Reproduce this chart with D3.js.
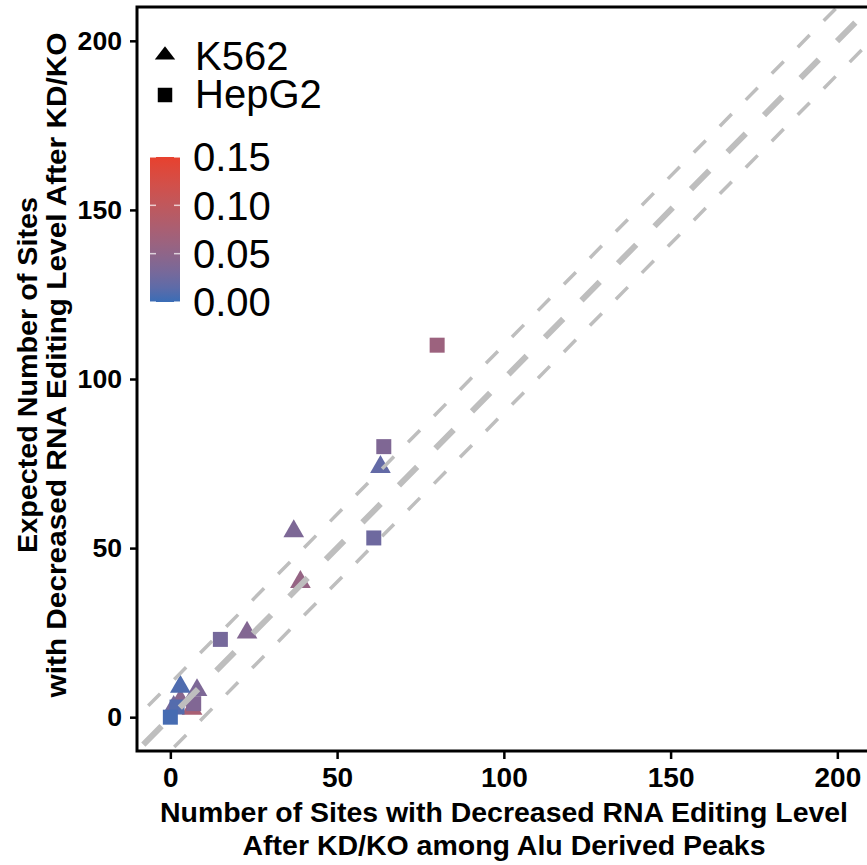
<!DOCTYPE html>
<html>
<head>
<meta charset="utf-8">
<script src="https://cdn.jsdelivr.net/npm/d3@7"></script>
<style>
  body { margin: 0; background: #fff; }
  text { font-family: "Liberation Sans", Arial, Helvetica, sans-serif; }
</style>
</head>
<body>
<div id="chart"></div>
<script>
// HepG2 (squares)
var hepX   = [80, 64, 61, 15, 7, 2, 0];
var hepY   = [110, 80, 53, 23, 4, 3, 0];
var hepVal = [0.062, 0.037, 0.025, 0.03, 0.038, 0.01, 0.004];

// K562 (triangles)
var k562X   = [63, 37, 39, 23, 6.5, 3, 1, 8, 3];
var k562Y   = [74, 55, 40, 25, 2.5, 5, 3, 8, 9];
var k562Val = [0.018, 0.035, 0.055, 0.04, 0.075, 0.045, 0.03, 0.035, 0.008];

var axisTicks = [0, 50, 100, 150, 200];
var colorTicks = [0, 0.05, 0.10, 0.15];
var ablineOffsets = [-10, 10];

var width = 867, height = 865;
var plotLeft = 137, plotTop = 7, plotBottom = 751;

var x = d3.scaleLinear().domain([-10, 210]).range([plotLeft, plotLeft + 220 * 3.335]);
var y = d3.scaleLinear().domain([-10, 210]).range([plotBottom, plotTop]);
var color = d3.scaleLinear().domain([0, 0.15]).range(["#3a6db6", "#e8412e"]).interpolate(d3.interpolateLab);

var svg = d3.select("#chart").append("svg")
  .attr("width", width)
  .attr("height", height);

svg.append("clipPath").attr("id", "panel")
  .append("rect")
  .attr("x", x(-10)).attr("y", y(210))
  .attr("width", x(210) - x(-10)).attr("height", y(-10) - y(210));

var plot = svg.append("g").attr("clip-path", "url(#panel)");

// points
var tri = d3.symbol().type(d3.symbolTriangle).size(185);
var sq = d3.symbol().type(d3.symbolSquare).size(225);

plot.selectAll(".k562")
  .data(k562X)
  .enter()
  .append("path")
  .attr("class", "k562")
  .attr("d", tri)
  .attr("transform", function(d, i) { return "translate(" + x(d) + "," + y(k562Y[i]) + ")"; })
  .attr("fill", function(d, i) { return color(k562Val[i]); });

plot.selectAll(".hep")
  .data(hepX)
  .enter()
  .append("path")
  .attr("class", "hep")
  .attr("d", sq)
  .attr("transform", function(d, i) { return "translate(" + x(d) + "," + y(hepY[i]) + ")"; })
  .attr("fill", function(d, i) { return color(hepVal[i]); });

// diagonal reference lines
plot.selectAll(".off")
  .data(ablineOffsets)
  .enter()
  .append("line")
  .attr("x1", function(d) { return x(-30); })
  .attr("y1", function(d) { return y(-30 + d); })
  .attr("x2", function(d) { return x(230); })
  .attr("y2", function(d) { return y(230 + d); })
  .attr("stroke", "#bebebe")
  .attr("stroke-width", 3.5)
  .attr("stroke-dasharray", "17,20");

plot.append("line")
  .attr("x1", x(-30)).attr("y1", y(-30))
  .attr("x2", x(230)).attr("y2", y(230))
  .attr("stroke", "#bebebe")
  .attr("stroke-width", 6)
  .attr("stroke-dasharray", "26,26");

// panel border
svg.append("rect")
  .attr("x", x(-10)).attr("y", y(210))
  .attr("width", x(210) - x(-10)).attr("height", y(-10) - y(210))
  .attr("fill", "none")
  .attr("stroke", "#000")
  .attr("stroke-width", 3);

// axes
var xAxis = svg.append("g")
  .attr("transform", "translate(0," + plotBottom + ")")
  .call(d3.axisBottom(x).tickValues(axisTicks).tickSize(8).tickPadding(8));
xAxis.select(".domain").remove();
xAxis.selectAll("line").attr("stroke", "#000").attr("stroke-width", 2.5);
xAxis.selectAll("text")
  .attr("fill", "#000")
  .style("font-size", "28px")
  .style("font-weight", "bold");

var yAxis = svg.append("g")
  .attr("transform", "translate(" + plotLeft + ",0)")
  .call(d3.axisLeft(y).tickValues(axisTicks).tickSize(7).tickFormat(""));
yAxis.select(".domain").remove();
yAxis.selectAll("line").attr("stroke", "#000").attr("stroke-width", 2.5);

svg.append("g").selectAll("text")
  .data(axisTicks)
  .enter()
  .append("text")
  .attr("x", 122)
  .attr("y", function(d) { return y(d); })
  .attr("dy", "0.36em")
  .attr("text-anchor", "end")
  .attr("font-size", 25)
  .attr("font-weight", "bold")
  .attr("fill", "#000")
  .attr("textLength", function(d) { return String(d).length * 14.8; })
  .attr("lengthAdjust", "spacingAndGlyphs")
  .text(function(d) { return d; });

// axis titles
svg.append("text")
  .attr("x", 504).attr("y", 822)
  .attr("text-anchor", "middle")
  .attr("textLength", 688).attr("lengthAdjust", "spacingAndGlyphs")
  .style("font-size", "27px").style("font-weight", "bold")
  .text("Number of Sites with Decreased RNA Editing Level");
svg.append("text")
  .attr("x", 504).attr("y", 855)
  .attr("text-anchor", "middle")
  .attr("textLength", 523).attr("lengthAdjust", "spacingAndGlyphs")
  .style("font-size", "27px").style("font-weight", "bold")
  .text("After KD/KO among Alu Derived Peaks");

svg.append("text")
  .attr("transform", "translate(37,375) rotate(-90)")
  .attr("text-anchor", "middle")
  .attr("textLength", 356).attr("lengthAdjust", "spacingAndGlyphs")
  .style("font-size", "27px").style("font-weight", "bold")
  .text("Expected Number of Sites");
svg.append("text")
  .attr("transform", "translate(66,365) rotate(-90)")
  .attr("text-anchor", "middle")
  .attr("textLength", 665).attr("lengthAdjust", "spacingAndGlyphs")
  .style("font-size", "27px").style("font-weight", "bold")
  .text("with Decreased RNA Editing Level After KD/KO");

// shape legend
var legend = svg.append("g");
legend.append("path")
  .attr("d", d3.symbol().type(d3.symbolTriangle).size(180))
  .attr("transform", "translate(165,55) scale(1,0.75)")
  .attr("fill", "#000");
legend.append("path")
  .attr("d", d3.symbol().type(d3.symbolSquare).size(210))
  .attr("transform", "translate(165,95)")
  .attr("fill", "#000");
legend.append("text").attr("x", 195).attr("y", 70)
  .style("font-size", "40px").text("K562");
legend.append("text").attr("x", 195).attr("y", 108)
  .style("font-size", "40px").text("HepG2");

// colour bar
var barY = d3.scaleLinear().domain([0, 0.15]).range([302, 157]);
var grad = svg.append("defs").append("linearGradient")
  .attr("id", "grad").attr("x1", 0).attr("y1", 1).attr("x2", 0).attr("y2", 0);
d3.range(0, 1.0001, 0.1).forEach(function(t) {
  grad.append("stop").attr("offset", t).attr("stop-color", color(t * 0.15));
});
svg.append("rect")
  .attr("x", 150).attr("y", barY(0.15))
  .attr("width", 30).attr("height", barY(0) - barY(0.15))
  .attr("fill", "url(#grad)");

var cb = svg.append("g");
cb.selectAll(".tl")
  .data(colorTicks)
  .enter()
  .append("line")
  .attr("x1", 150).attr("x2", 156)
  .attr("y1", function(d) { return barY(d); })
  .attr("y2", function(d) { return barY(d); })
  .attr("stroke", "#fff").attr("stroke-opacity", 0.7).attr("stroke-width", 1.5);
cb.selectAll(".tr")
  .data(colorTicks)
  .enter()
  .append("line")
  .attr("x1", 174).attr("x2", 180)
  .attr("y1", function(d) { return barY(d); })
  .attr("y2", function(d) { return barY(d); })
  .attr("stroke", "#fff").attr("stroke-opacity", 0.7).attr("stroke-width", 1.5);
cb.selectAll("text")
  .data(colorTicks)
  .enter()
  .append("text")
  .attr("x", 193)
  .attr("y", function(d) { return barY(d); })
  .attr("dy", "0.36em")
  .style("font-size", "40px")
  .text(function(d) { return d3.format(".2f")(d); });
</script>
</body>
</html>
